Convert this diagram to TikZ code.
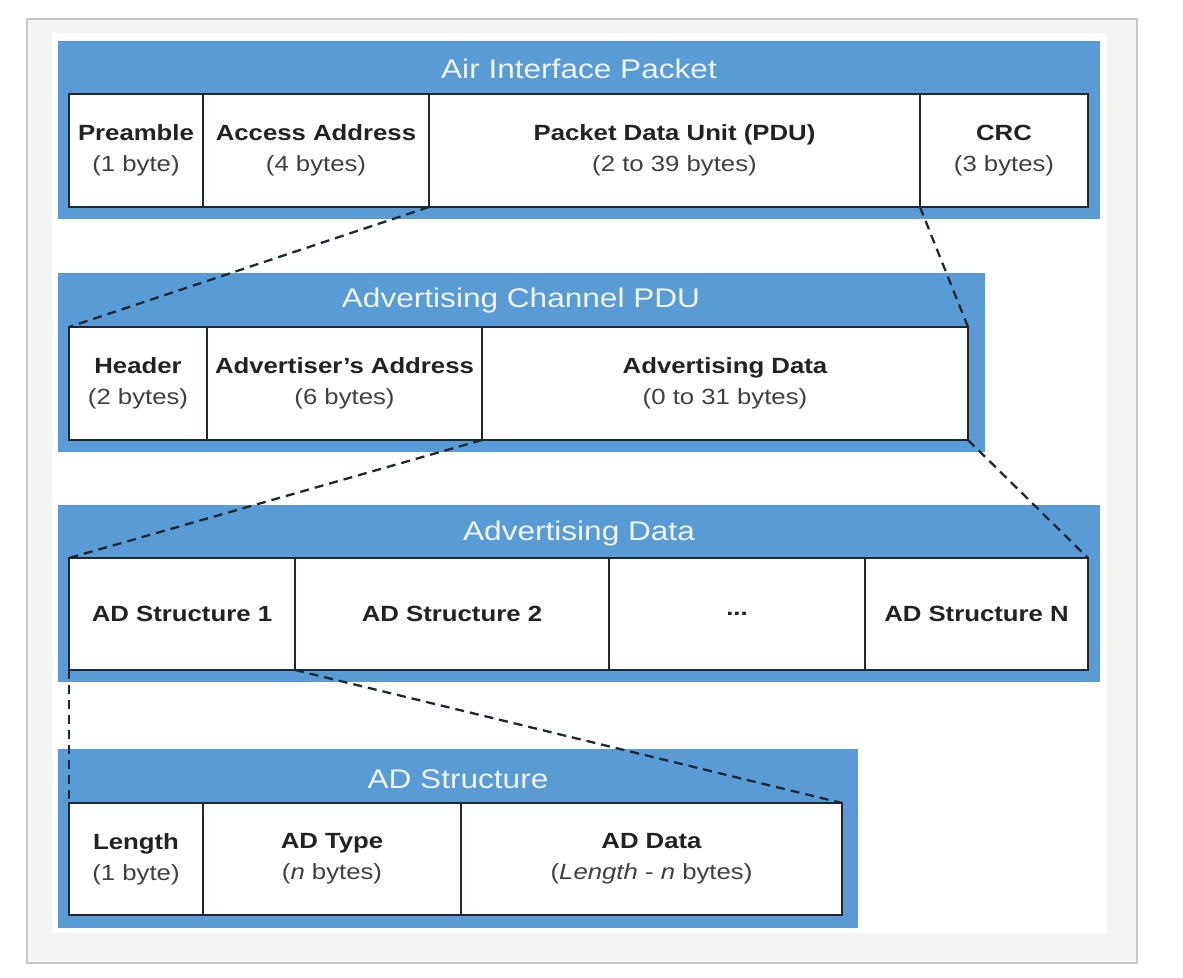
\documentclass[tikz,border=0pt]{standalone}
\usepackage{fontspec}
\setmainfont{Liberation Sans}[FakeStretch=1.17]
\usetikzlibrary{positioning}

\definecolor{bandblue}{HTML}{5B9BD5}
\definecolor{edge}{HTML}{1E2833}
\definecolor{ink}{HTML}{222222}
\definecolor{subink}{HTML}{404040}
\definecolor{titleink}{HTML}{EEF4FB}
\definecolor{frame}{HTML}{C8C8C8}
\definecolor{canvas}{HTML}{F4F4F4}

\newcommand{\sub}[1]{{\mdseries\color{subink}#1}}

\begin{document}
\begin{tikzpicture}[
  x=1pt, y=-1pt,
  band/.style={fill=bandblue, draw=none, anchor=north west, inner sep=0pt, outer sep=0pt},
  ttl/.style={text=titleink, font=\fontsize{27}{30}\selectfont, inner sep=0pt},
  cell/.style={draw=edge, line width=2.4pt, fill=white, inner sep=0pt, outer sep=0pt,
               align=center, text=ink, font=\fontsize{22}{31}\selectfont\bfseries},
  link/.style={draw=edge, line width=2.3pt, dash pattern=on 9pt off 6pt}
]
\useasboundingbox (0,0) rectangle (1183,977);

% ---------------- frame ----------------
\filldraw[fill=canvas, draw=frame, line width=1.5pt] (27,19) rectangle (1137,963);
\fill[white] (52,33) rectangle (1107,933);

% ---------------- air interface packet ----------------
\node[band, minimum width=1042pt, minimum height=178pt] (aipband) at (58,41) {};
\node[ttl] (aipttl) at (579,69) {Air Interface Packet};
\node[cell, anchor=north west, minimum width=134pt, minimum height=113pt] (pre) at (69,94)
  {Preamble\\ \sub{(1 byte)}};
\node[cell, right=0pt of pre, minimum width=226pt, minimum height=113pt] (acc)
  {Access Address\\ \sub{(4 bytes)}};
\node[cell, right=0pt of acc, minimum width=491pt, minimum height=113pt] (pdu)
  {Packet Data Unit (PDU)\\ \sub{(2 to 39 bytes)}};
\node[cell, right=0pt of pdu, minimum width=168pt, minimum height=113pt] (crc)
  {CRC\\ \sub{(3 bytes)}};

% ---------------- advertising channel pdu ----------------
\node[band, minimum width=927pt, minimum height=179pt] (acpband) at (58,273) {};
\node[ttl] (acpttl) at (521,301) {Advertising Channel PDU};
\node[cell, anchor=north west, minimum width=138pt, minimum height=113pt] (hdr) at (69,327)
  {Header\\ \sub{(2 bytes)}};
\node[cell, right=0pt of hdr, minimum width=275pt, minimum height=113pt] (addr)
  {Advertiser’s Address\\ \sub{(6 bytes)}};
\node[cell, right=0pt of addr, minimum width=486pt, minimum height=113pt] (advd)
  {Advertising Data\\ \sub{(0 to 31 bytes)}};

% ---------------- advertising data ----------------
\node[band, minimum width=1042pt, minimum height=177pt] (adband) at (58,505) {};
\node[ttl] (adttl) at (579,534) {Advertising Data};
\node[cell, anchor=north west, minimum width=226pt, minimum height=112pt] (ad1) at (69,558)
  {AD Structure 1};
\node[cell, right=0pt of ad1, minimum width=314pt, minimum height=112pt] (ad2)
  {AD Structure 2};
\node[cell, right=0pt of ad2, minimum width=256pt, minimum height=112pt] (adx)
  {...};
\node[cell, right=0pt of adx, minimum width=223pt, minimum height=112pt] (adn)
  {AD Structure N};

% ---------------- ad structure ----------------
\node[band, minimum width=800pt, minimum height=179pt] (asband) at (58,749) {};
\node[ttl] (asttl) at (458,779) {AD Structure};
\node[cell, anchor=north west, minimum width=134pt, minimum height=112pt] (len) at (69,803)
  {Length\\ \sub{(1 byte)}};
\node[cell, right=0pt of len, minimum width=258pt, minimum height=112pt] (typ)
  {AD Type\\ \sub{(\textit{n} bytes)}};
\node[cell, right=0pt of typ, minimum width=381pt, minimum height=112pt] (dat)
  {AD Data\\ \sub{(\textit{Length} - \textit{n} bytes)}};

% ---------------- zoom lines ----------------
\draw[link] (acc.south east) -- (hdr.north west);
\draw[link] (pdu.south east) -- (advd.north east);
\draw[link] (addr.south east) -- (ad1.north west);
\draw[link] (advd.south east) -- (adn.north east);
\draw[link] (ad1.south east) -- (dat.north east);
\draw[link] (ad1.south west) -- (len.north west);

\end{tikzpicture}
\end{document}
